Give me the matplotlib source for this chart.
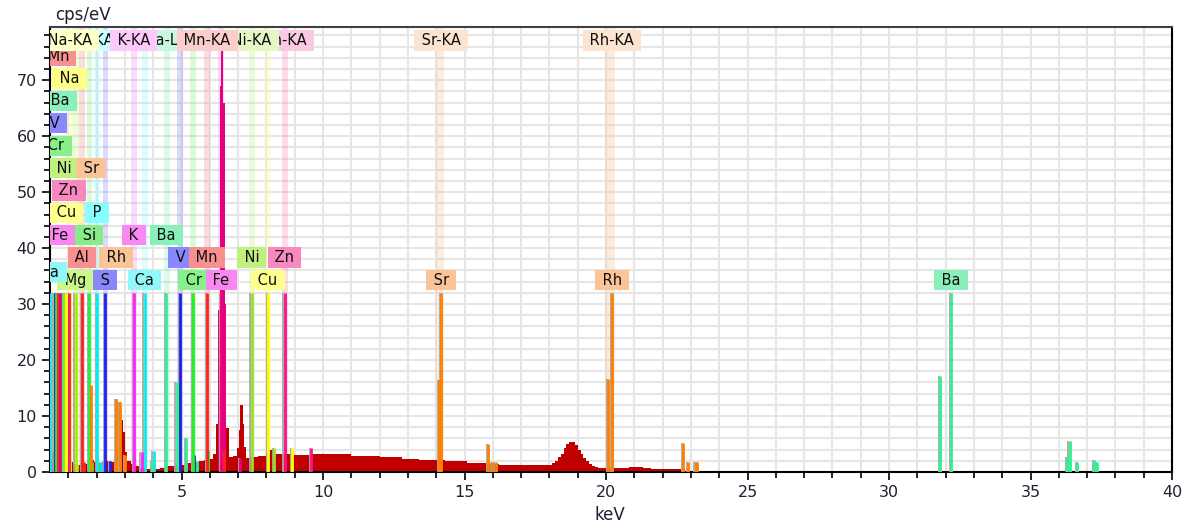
import numpy as np
import matplotlib.pyplot as plt
from matplotlib.ticker import MultipleLocator
from matplotlib.transforms import offset_copy
from matplotlib.colors import to_rgb


# measured spectrum, step bins: left edge (keV) and intensity (cps/eV)
spec_e = [0.35, 0.42, 0.48, 0.62, 0.72, 0.80, 0.88, 0.96, 1.05, 1.15,
          1.30, 1.45, 1.55, 1.65, 1.78, 1.90, 2.05, 2.20, 2.35, 2.50,
          2.60, 2.66, 2.76, 2.86, 2.93, 3.00, 3.08, 3.20, 3.35, 3.50,
          3.70, 3.90, 4.05, 4.25, 4.45, 4.60, 4.80, 5.00, 5.20, 5.40,
          5.60, 5.80, 6.00, 6.10, 6.20, 6.27, 6.34, 6.40, 6.46, 6.53,
          6.58, 6.67, 6.80, 6.96, 7.02, 7.06, 7.16, 7.22, 7.29, 7.43,
          7.70, 8.00, 8.14, 8.26, 8.50, 8.85, 9.60, 11.0, 12.0, 12.8,
          13.4, 14.3, 15.1, 15.8, 16.2, 18.1, 18.2, 18.3, 18.4, 18.5,
          18.6, 18.7, 18.8, 18.9, 19.0, 19.1, 19.2, 19.3, 19.4, 19.5,
          19.6, 19.7, 20.8, 21.3, 21.6]
spec_c = [2.0, 3.5, 25.0, 13.0, 6.0, 8.5, 4.8, 3.0, 1.8, 1.5,
          1.2, 1.8, 1.5, 1.8, 2.2, 1.8, 1.6, 1.8, 2.0, 1.8,
          2.2, 13.0, 12.5, 9.3, 7.2, 3.5, 2.0, 1.4, 1.0, 0.8,
          0.6, 0.9, 0.6, 0.7, 1.0, 1.0, 1.2, 1.3, 1.6, 1.8,
          2.0, 2.2, 2.4, 3.3, 8.6, 29.0, 69.0, 76.0, 66.0, 30.0,
          7.8, 2.7, 2.8, 4.2, 7.5, 12.0, 8.5, 4.5, 2.5, 2.7,
          2.8, 3.2, 4.0, 3.2, 3.3, 3.1, 3.3, 2.9, 2.6, 2.4,
          2.1, 1.95, 1.6, 1.4, 1.25, 1.6, 2.0, 2.6, 3.3, 4.2,
          5.0, 5.4, 5.3, 4.8, 4.0, 3.2, 2.5, 2.0, 1.4, 1.1,
          0.9, 0.65, 0.9, 0.75, 0.45]
spec_end = 22.8

# parts of the spectrum filled in the colour of the element
peak_fill = [("Mn", 0.48, 0.72), ("Rh", 2.66, 2.86), ("Fe", 6.27, 6.58)]

elements = ["Na", "Mg", "Al", "Si", "P", "S", "K", "Ca", "Ba",
            "V", "Cr", "Mn", "Fe", "Ni", "Cu", "Zn", "Sr", "Rh"]

line_color = {
    "Na": "#f0f000", "Mg": "#a8f000", "Al": "#ff2020", "Si": "#20f040",
    "P": "#00f0f0", "S": "#2020f0", "K": "#ff20ff", "Ca": "#10e8f0",
    "Ba": "#30f090", "V": "#2020e0", "Cr": "#20f020", "Mn": "#ff2020",
    "Fe": "#e8007a", "Ni": "#98e020", "Cu": "#ffff00", "Zn": "#ff1080",
    "Sr": "#ff8000", "Rh": "#ff8000",
}
label_color = {
    "Na": "#ffff88", "Mg": "#c8f888", "Al": "#f89090", "Si": "#88ec88",
    "P": "#88ffff", "S": "#8888f8", "K": "#f888f4", "Ca": "#90f8f8",
    "Ba": "#88f0b8", "V": "#8888ff", "Cr": "#88f088", "Mn": "#f89090",
    "Fe": "#f888f0", "Ni": "#c0f080", "Cu": "#ffff90", "Zn": "#f888c0",
    "Sr": "#f8c498", "Rh": "#f8c498",
}

# line markers: energy (keV), height (cps/eV)
lines = {
    "Na": [(1.041, 32), (1.067, 1.5)],
    "Mg": [(1.254, 32), (1.302, 1.5)],
    "Al": [(1.487, 32), (1.557, 1.8)],
    "Si": [(1.740, 32), (1.836, 1.8)],
    "P": [(2.013, 32), (2.139, 1.8)],
    "S": [(2.307, 32), (2.464, 2.0)],
    "K": [(3.313, 32), (3.590, 3.5)],
    "Ca": [(0.341, 32), (3.691, 32), (4.013, 3.8)],
    "Ba": [(0.780, 32), (3.954, 2.0), (4.466, 32), (4.828, 16), (5.157, 6.0),
           (5.531, 2.0), (31.817, 17.2), (32.194, 32), (36.304, 2.7),
           (36.378, 5.6), (36.645, 1.8), (37.255, 2.1), (37.350, 1.8)],
    "V": [(0.511, 32), (4.952, 32), (5.427, 3.0)],
    "Cr": [(0.573, 32), (5.415, 32), (5.947, 4.0)],
    "Mn": [(0.637, 32), (5.899, 32), (6.490, 4.0)],
    "Fe": [(0.705, 32), (6.404, 32), (7.058, 2.5)],
    "Ni": [(0.851, 32), (7.478, 32), (8.265, 4.2)],
    "Cu": [(0.930, 32), (8.048, 32), (8.905, 4.2)],
    "Zn": [(1.012, 32), (8.639, 32), (9.572, 4.2)],
    "Sr": [(1.806, 15.5), (14.098, 16.5), (14.165, 32), (15.835, 5.0),
           (15.980, 1.8), (16.100, 1.8)],
    "Rh": [(2.697, 13.0), (2.834, 12.5), (3.001, 3.0), (20.074, 16.7),
           (20.216, 32), (22.724, 5.2), (22.910, 1.8), (23.170, 1.8),
           (23.220, 1.8)],
}

# element labels: name, energy (keV), stacking row
labels = [
    ("Mg", 1.254, 0), ("S", 2.307, 0), ("Ca", 3.691, 0), ("Cr", 5.415, 0),
    ("Fe", 6.404, 0), ("Cu", 8.048, 0), ("Sr", 14.165, 0), ("Rh", 20.216, 0),
    ("Ba", 32.194, 0), ("Ca", 0.341, 0.35),
    ("Al", 1.487, 1), ("Rh", 2.697, 1), ("V", 4.952, 1), ("Mn", 5.899, 1),
    ("Ni", 7.478, 1), ("Zn", 8.639, 1),
    ("Fe", 0.705, 2), ("Si", 1.740, 2), ("K", 3.313, 2), ("Ba", 4.466, 2),
    ("Cu", 0.930, 3), ("P", 2.013, 3),
    ("Zn", 1.012, 4),
    ("Ni", 0.851, 5), ("Sr", 1.806, 5),
    ("Cr", 0.573, 6),
    ("V", 0.511, 7),
    ("Ba", 0.700, 8),
    ("Na", 1.041, 9),
    ("Mn", 0.637, 10),
]

# analysed lines, windows and header labels (drawn bottom to top)
windows = [
    ("Mg", "KA", 1.254, 1.254), ("Al", "KA", 1.487, 1.487),
    ("Si", "KA", 1.740, 1.740), ("S", "KA", 2.307, 2.307),
    ("Ca", "KA", 3.691, 3.691), ("V", "KA", 4.952, 4.952),
    ("Cr", "KA", 5.415, 5.415), ("Fe", "KA", 6.404, 6.404),
    ("Cu", "KA", 8.048, 8.048), ("P", "KA", 2.013, 2.013),
    ("Ba", "LA", 4.466, 4.466), ("Zn", "KA", 8.639, 8.639),
    ("Ni", "KA", 7.478, 7.478), ("Mn", "KA", 5.899, 5.899),
    ("K", "KA", 3.313, 3.313), ("Na", "KA", 1.041, 1.041),
    ("Sr", "KA", 14.098, 14.165), ("Rh", "KA", 20.074, 20.216),
]


def whiten(c, k):
    r, g, b = to_rgb(c)
    return (1 - k * (1 - r), 1 - k * (1 - g), 1 - k * (1 - b))


fig = plt.figure(figsize=(11.92, 5.30), dpi=100)
ax = fig.add_axes([50 / 1192, 58 / 530, 1122 / 1192, 445 / 530])

ax.set_xlim(0.35, 40)
ax.set_ylim(0, 79.5)

# spectrum
x = np.array(spec_e + [spec_end])
c = np.array(spec_c + [spec_c[-1]])
ax.fill_between(x, c, step="post", color="#c00000", lw=0, zorder=2)
for el, lo, hi in peak_fill:
    idx = [i for i, e in enumerate(spec_e) if lo <= e < hi]
    xs = [spec_e[i] for i in idx] + [spec_e[idx[-1] + 1]]
    cs = [spec_c[i] for i in idx] + [spec_c[idx[-1]]]
    ax.fill_between(xs, cs, step="post", color=line_color[el], lw=0, zorder=2.1)

# windows of the analysed lines
for el, name, lo, hi in windows:
    ax.axvspan(lo - 0.1, hi + 0.11, color=label_color[el], alpha=0.3,
               lw=0, zorder=1)

# line markers with a grey edge
shadow = offset_copy(ax.transData, fig=fig, x=-1.3, y=0, units="dots")
for el in elements:
    for e, h in lines[el]:
        ax.plot([e, e], [0, h], color="#a8a8a8", lw=1.3, transform=shadow,
                solid_capstyle="butt", zorder=3)
        ax.plot([e, e], [0, h], color=line_color[el], lw=2.0,
                solid_capstyle="butt", zorder=3.1)

# element labels
box_kw = dict(boxstyle="square,pad=0.18", ec="none")
for el, e, row in labels:
    ax.text(e, 34.3 + 4.0 * row, f" {el} ", ha="center", va="center",
            fontsize=10.5, color="#101010", clip_on=True, zorder=5,
            bbox=dict(fc=label_color[el], **box_kw))

for el, name, lo, hi in windows:
    ax.text(hi, 77.1, f" {el}-{name} ", ha="center", va="center",
            fontsize=10.5, color="#101010", clip_on=True, zorder=6,
            bbox=dict(fc=whiten(label_color[el], 0.45), **box_kw))

ax.xaxis.set_major_locator(MultipleLocator(5))
ax.xaxis.set_minor_locator(MultipleLocator(1))
ax.yaxis.set_major_locator(MultipleLocator(10))
ax.yaxis.set_minor_locator(MultipleLocator(2))
ax.grid(which="both", color="#e6e6e6", lw=1.5, zorder=0)
ax.set_axisbelow(True)

ax.tick_params(which="both", direction="out", color="#000000", width=1.2,
               labelsize=11.5, labelcolor="#202030")
ax.tick_params(which="major", length=6)
ax.tick_params(which="minor", length=4)
for s in ax.spines.values():
    s.set_color("#000000")
    s.set_linewidth(1.5)
ax.spines["top"].set_color("#404040")

fig.text(55 / 1192, 1 - 15 / 530, "cps/eV", fontsize=12, color="#202030",
         ha="left", va="center")
fig.text(610 / 1192, 1 - 515 / 530, "keV", fontsize=12, color="#202030",
         ha="center", va="center")

fig.savefig("out.png", dpi=100)
